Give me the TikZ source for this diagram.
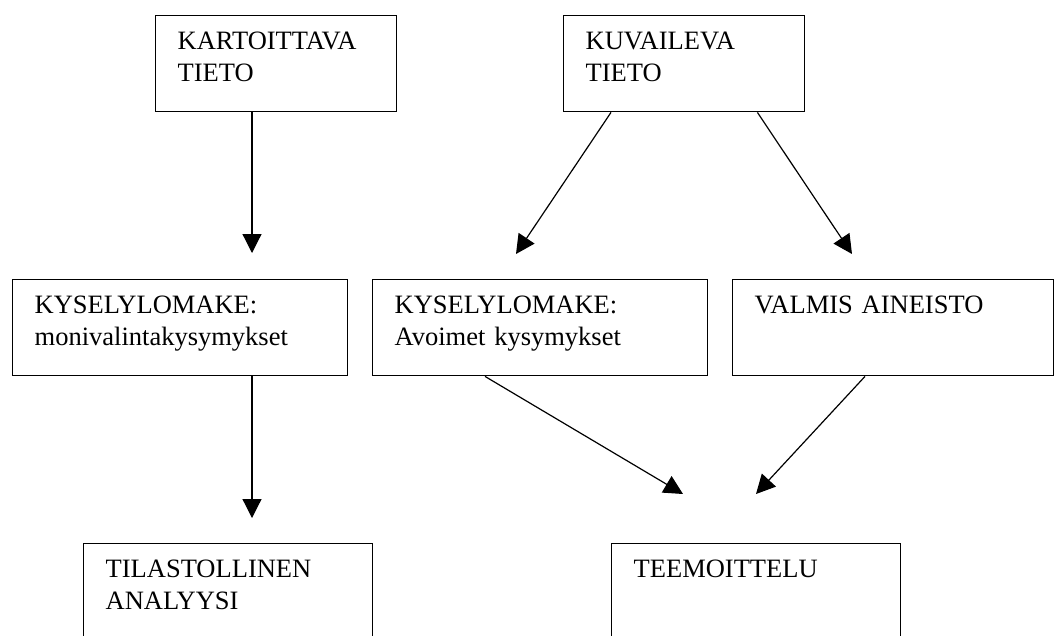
\documentclass[tikz,border=0pt]{standalone}
\usepackage{fontspec}
\setmainfont{Liberation Serif}
\usetikzlibrary{arrows.meta,calc}

\tikzset{
  laatikko/.style={draw, line width=1.4pt, anchor=north west, align=left,
    inner xsep=22pt, inner ysep=17pt, text height=17pt, text depth=45pt,
    font=\fontsize{26.5}{31.5}\selectfont},
  nuoli/.style={line width=1.2pt, -{Triangle[length=19pt,width=19pt]}}
}

\begin{document}
\begin{tikzpicture}[x=1pt,y=-1pt]
        \clip (0,0) rectangle (1055,635);
        % ylarivi
        \node[laatikko, text width=197pt] (kart) at (155,15) {KARTOITTAVA\\TIETO};
        \node[laatikko, text width=197pt] (kuva) at (563,15) {KUVAILEVA\\TIETO};
        % keskirivi
        \node[laatikko, text width=291pt] (kysmon) at (12,279) {KYSELYLOMAKE:\\monivalintakysymykset};
        \node[laatikko, text width=291pt] (kysavo) at (372,279) {KYSELYLOMAKE:\\Avoimet kysymykset};
        \node[laatikko, text width=277pt] (valmis) at (732,279) {VALMIS AINEISTO};
        % alarivi
        \node[laatikko, text width=245pt, text depth=120pt] (tilasto) at (83,543) {TILASTOLLINEN\\ANALYYSI};
        \node[laatikko, text width=245pt, text depth=120pt] (teema) at (611,543) {TEEMOITTELU};
        % nuolten karjet
        \coordinate (t1) at (252,253);
        \coordinate (t2) at (516,254);
        \coordinate (t3) at (852,254);
        \coordinate (t4) at (252,518);
        \coordinate (t5) at (683,494);
        \coordinate (t6) at (756,494);
        \draw[nuoli] (kart.south -| t1) -- (t1);
        \draw[nuoli] ($(kuva.south west)+(48,0)$) -- (t2);
        \draw[nuoli] ($(kuva.south east)+(-48,0)$) -- (t3);
        \draw[nuoli] (kysmon.south -| t4) -- (t4);
        \draw[nuoli] ($(kysavo.south west)+(113,0)$) -- (t5);
        \draw[nuoli] ($(valmis.south west)+(133,0)$) -- (t6);
      \end{tikzpicture}
\end{document}
